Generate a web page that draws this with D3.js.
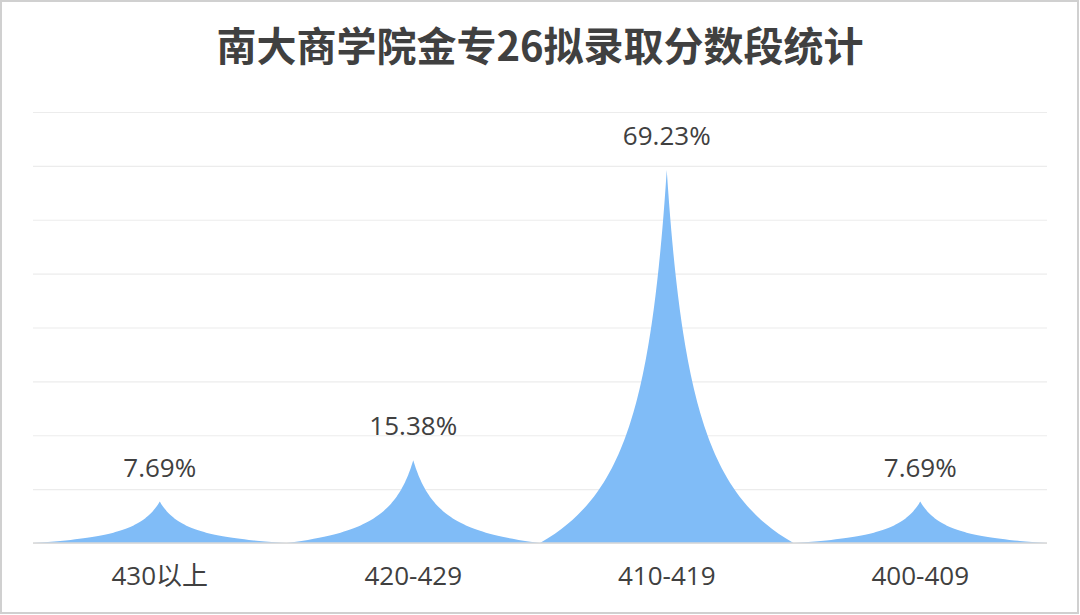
<!DOCTYPE html>
<html><head><meta charset="utf-8">
<script src="https://cdn.jsdelivr.net/npm/d3@7/dist/d3.min.js"></script>
<style>
html,body{margin:0;padding:0;background:#fff;}
svg{display:block;}
</style></head>
<body>
<svg id="chart" width="1080" height="615"></svg>
<script>
const title = "南大商学院金专26拟录取分数段统计";
const categories = ["430以上", "420-429", "410-419", "400-409"];
const values = [7.69, 15.38, 69.23, 7.69];
const valueLabels = ["7.69%", "15.38%", "69.23%", "7.69%"];
const yTicks = [0, 10, 20, 30, 40, 50, 60, 70, 80];

const W = 1080, H = 615;
const margin = {top: 112, right: 33, bottom: 72, left: 33};
const svg = d3.select("#chart");
const font = "'Open Sans', 'Noto Sans CJK SC', sans-serif";
const titleFont = "'Noto Sans CJK SC', sans-serif";

svg.append("rect").attr("x", 1).attr("y", 1).attr("width", W - 3).attr("height", H - 3)
  .attr("fill", "#fff").attr("stroke", "#d0d0d0").attr("stroke-width", 2);

const x = d3.scaleBand().domain(categories).range([margin.left, W - margin.right]).padding(0);
const y = d3.scaleLinear().domain([0, 80]).range([H - margin.bottom, margin.top]);

// gridlines
const grid = svg.append("g").attr("class", "grid")
  .attr("transform", `translate(${margin.left},0)`)
  .call(d3.axisLeft(y).tickValues(yTicks).tickSize(-(W - margin.left - margin.right)).tickFormat(""));
grid.select(".domain").remove();
grid.selectAll("line").attr("stroke", "#ececec").attr("stroke-width", 1.2);

// spikes
function spikePath(cat, v) {
  const cx = x(cat) + x.bandwidth() / 2;
  const hw = x.bandwidth() / 2;
  const base = y(0), top = y(v);
  const hh = base - top;
  const k = 4.2;
  const n = 80;
  const p = d3.path();
  const hs = d3.range(n + 1).map(i => i / n);
  const edge = h => (1 - h) / (1 + k * h);
  p.moveTo(cx - hw, base);
  hs.forEach(h => p.lineTo(cx - hw * edge(h), base - hh * h));
  hs.slice().reverse().forEach(h => p.lineTo(cx + hw * edge(h), base - hh * h));
  p.closePath();
  return p.toString();
}

svg.append("g").selectAll("path").data(categories).join("path")
  .attr("d", (c, i) => spikePath(c, values[i]))
  .attr("fill", "#80bcf7");

// baseline
svg.append("line").attr("x1", margin.left).attr("x2", W - margin.right)
  .attr("y1", y(0)).attr("y2", y(0)).attr("stroke", "#d9d9d9").attr("stroke-width", 1.5);

// value labels
svg.append("g").selectAll("text").data(categories).join("text")
  .attr("x", c => x(c) + x.bandwidth() / 2)
  .attr("y", (c, i) => y(values[i]) - 25)
  .attr("text-anchor", "middle")
  .attr("font-family", font).attr("font-size", 26).attr("fill", "#404040")
  .text((c, i) => valueLabels[i]);

// x axis labels
const xa = svg.append("g").attr("transform", `translate(0,${y(0)})`)
  .call(d3.axisBottom(x).tickSize(0).tickPadding(0));
xa.select(".domain").remove();
xa.selectAll("text").attr("font-family", font).attr("font-size", 26).attr("fill", "#404040")
  .attr("dy", 0).attr("y", 42);

// title
svg.append("text").attr("x", W / 2).attr("y", 61).attr("text-anchor", "middle")
  .attr("font-family", titleFont).attr("font-weight", "bold").attr("font-size", 40)
  .attr("fill", "#404040").text(title);
</script>
</body></html>
